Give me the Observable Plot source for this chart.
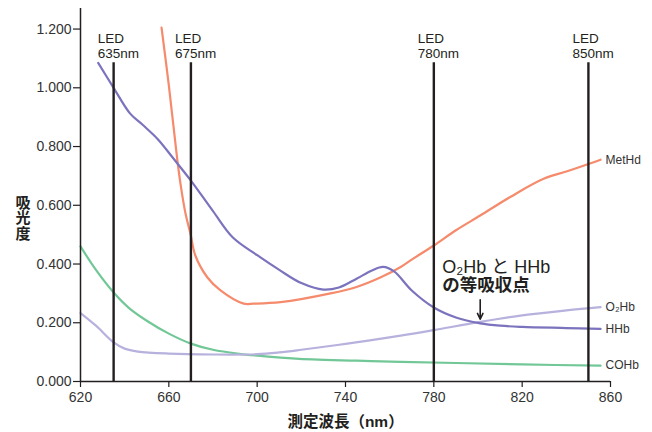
<!DOCTYPE html>
<html><head><meta charset="utf-8">
<script src="https://cdn.jsdelivr.net/npm/d3@7"></script>
<script src="https://cdn.jsdelivr.net/npm/@observablehq/plot@0.6"></script>
<style>
body{margin:0;background:#fff;}
#chart svg{font-family:"Liberation Sans",Arial,"Noto Sans CJK JP",sans-serif;}
</style>
</head><body><div id="chart"></div>
<script>
// Absorbance curves: [wavelength nm, absorbance]
const hhb = [[628,1.085],[635,1.0],[642.5,0.912],[648,0.875],[655,0.825],[662,0.76],[670,0.684],[680,0.58],[689,0.49],[700,0.43],[710,0.38],[720,0.335],[730,0.313],[737,0.32],[745,0.35],[752,0.378],[757,0.39],[762,0.375],[770,0.31],[780,0.252],[790,0.218],[801,0.198],[810,0.19],[820,0.186],[840,0.182],[855.5,0.179]];
const metHb = [[656.7,1.205],[660,1.008],[663.8,0.757],[665.3,0.672],[667.6,0.57],[669.8,0.503],[672,0.429],[677.4,0.355],[683.4,0.31],[693.9,0.265],[698.4,0.265],[710.6,0.27],[733.2,0.3],[745,0.322],[756,0.355],[765,0.39],[770,0.415],[780,0.463],[790,0.515],[801,0.565],[815,0.63],[829.7,0.69],[840,0.715],[851,0.743],[855.5,0.755]];
const o2hb = [[620,0.233],[627,0.19],[635,0.133],[640,0.112],[646,0.102],[660,0.095],[680,0.092],[700,0.093],[710,0.099],[720,0.108],[740,0.128],[765,0.156],[780,0.175],[801,0.203],[820,0.225],[840,0.242],[855.5,0.253]];
const cohb = [[620,0.46],[627,0.38],[635,0.303],[642,0.25],[650,0.207],[660,0.163],[670,0.129],[680,0.108],[691,0.095],[705,0.085],[725,0.075],[745,0.071],[765,0.067],[790,0.063],[820,0.058],[855.5,0.054]];

const seriesNames = ["COHb","O₂Hb","MetHd","HHb"];
const seriesColors = ["#72c797","#b7b1dd","#f58b6c","#7b73bd"];
const seriesData = [cohb, o2hb, metHb, hhb];

// LED wavelengths (line positions) and their labels
const ledPos = [635, 670, 780, 850];
const ledLabels = ["LED\n635nm","LED\n675nm","LED\n780nm","LED\n850nm"];
const ledTop = 1.085;

// Isosbestic point annotation
const isoPoint = [{x:801, y:0.2, text:"O₂Hb と HHb"}];
const isoText2 = "の等吸収点";

const xTicks = [620,660,700,740,780,820,860];
const yTicks = [0,0.2,0.4,0.6,0.8,1.0,1.2];
const yTitle = ["吸","光","度"];
const xTitle = "測定波長（nm）";

const rows = seriesData.flatMap((pts,i) => pts.map(([x,y]) => ({x, y, name: seriesNames[i]})));
const leds = ledPos.map((p,i) => ({x:p, label:ledLabels[i]}));

const chart = Plot.plot({
  width: 652, height: 432,
  marginLeft: 80, marginRight: 42, marginTop: 8, marginBottom: 51,
  style: {fontSize: "14px", color: "#333", background: "#fff"},
  x: {domain: [620, 860], ticks: xTicks, tickSize: 6, tickPadding: 5, label: null},
  y: {domain: [0, 1.27], ticks: yTicks, tickFormat: d3.format(".3f"), tickSize: 7, tickPadding: 2, label: null},
  color: {domain: seriesNames, range: seriesColors},
  marks: [
    Plot.line(rows, {x:"x", y:"y", z:"name", stroke:"name", strokeWidth:2.2, curve:"catmull-rom"}),
    Plot.text(rows, Plot.selectLast({x:"x", y:"y", z:"name", text:"name", textAnchor:"start", dx:5, fontSize:12, fill:"#333"})),
    Plot.ruleX(leds, {x:"x", y1:0, y2:ledTop, stroke:"#231f20", strokeWidth:2.4}),
    Plot.text(leds, {x:"x", y:ledTop, text:"label", textAnchor:"start", lineAnchor:"bottom", dx:-16, dy:-5, fontSize:13.5, lineHeight:1.07, fill:"#231f20"}),
    Plot.arrow(isoPoint, {x1:"x", x2:"x", y1:d => d.y + 0.078, y2:d => d.y + 0.012, stroke:"#231f20", strokeWidth:1.6, headLength:7, headAngle:50}),
    Plot.text(isoPoint, {x:"x", y:"y", text:"text", textAnchor:"start", dx:-38, dy:-56, fontSize:18, fill:"#231f20"}),
    Plot.text(isoPoint, {x:"x", y:"y", text:() => isoText2, textAnchor:"start", dx:-38, dy:-37, fontSize:17.5, fontWeight:"bold", fill:"#231f20"}),
    Plot.ruleX([620], {y1:0, y2:1.27, stroke:"#231f20", strokeWidth:1.5}),
    Plot.ruleY([0], {x1:620, x2:860, stroke:"#231f20", strokeWidth:1.5}),
    Plot.axisX({ticks:xTicks, tickSize:6, tickPadding:5, stroke:"#231f20", strokeWidth:1.2, fontSize:14}),
    Plot.axisY({ticks:yTicks, tickFormat:d3.format(".3f"), tickSize:7, tickPadding:2, stroke:"#231f20", strokeWidth:1.2, fontSize:14}),
    ...yTitle.map((ch, i) => Plot.text([ch], {frameAnchor:"left", dx:-65, dy:8 + i*15.5, text:d => d, fontSize:15, fontWeight:"bold", fill:"#231f20"})),
    Plot.text([xTitle], {frameAnchor:"bottom", dy:45, text:d => d, fontSize:15.5, fontWeight:"bold", fill:"#231f20"})
  ]
});
document.getElementById("chart").appendChild(chart);
</script>
</body></html>
